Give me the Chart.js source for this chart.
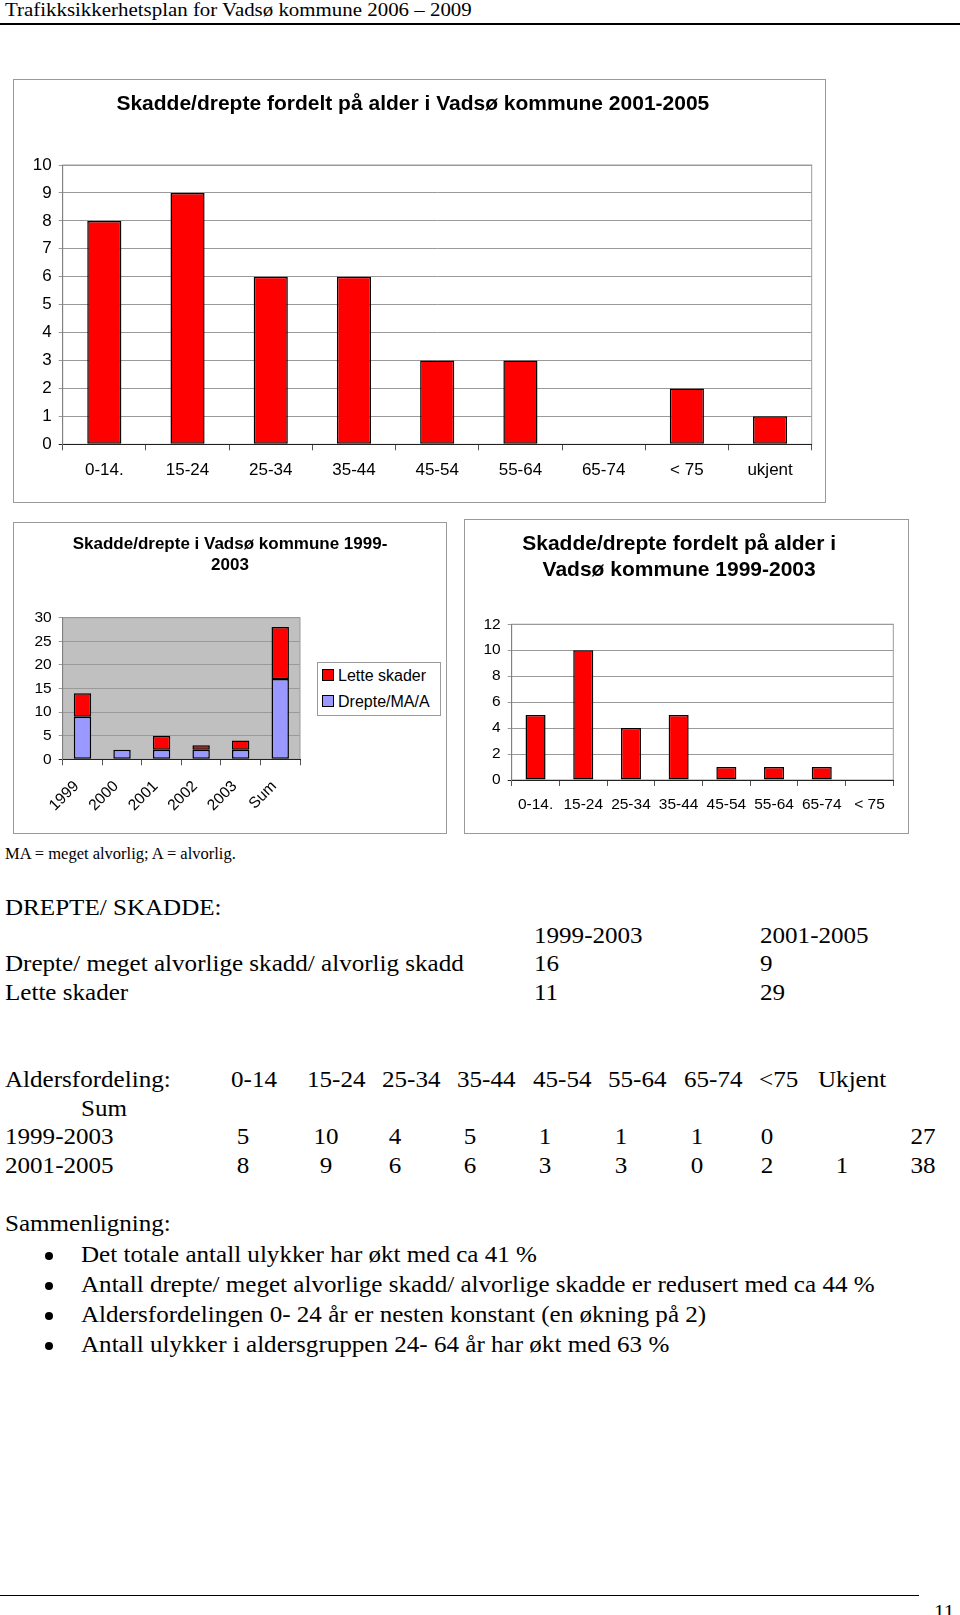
<!DOCTYPE html>
<html>
<head>
<meta charset="utf-8">
<script src="https://cdn.jsdelivr.net/npm/chart.js@4.4.1/dist/chart.umd.min.js"></script>
<style>
  body { margin: 0; background: #fff; }
  #page { position: relative; width: 960px; height: 1615px; overflow: hidden; background: #fff;
          font-family: "Liberation Serif", "Times New Roman", serif; color: #000; }
  .t { position: absolute; white-space: nowrap; line-height: 1.2; }
  .box { position: absolute; border: 1px solid #9a9a9a; background: #fff; }
  .box canvas { position: absolute; left: 0; top: 0; }
  .legend { position: absolute; border: 1px solid #9a9a9a; background: #fff;
            font-family: "Liberation Sans", Arial, sans-serif; font-size: 16px; }
  .legend .sw { position: absolute; width: 10px; height: 10px; border: 1px solid #000; }
  .legend .lb { position: absolute; line-height: 18px; white-space: nowrap; }
  .dot { position: absolute; width: 8px; height: 8px; border-radius: 50%; background: #000; }
</style>
</head>
<body>
<div id="page">
  <div class="box" style="left:13px; top:79px; width:811px; height:422px;">
    <canvas id="c1" width="811" height="422"></canvas>
  </div>
  <div class="box" style="left:13px; top:522px; width:432px; height:310px;">
    <canvas id="c2" width="432" height="310"></canvas>
  </div>
  <div class="legend" id="leg2" style="left:317px; top:662px; width:122px; height:52px;"></div>
  <div class="box" style="left:464px; top:519px; width:443px; height:313px;">
    <canvas id="c3" width="443" height="313"></canvas>
  </div>
</div>
<script>
// chart values
const ageLabels0105 = ["0-14.", "15-24", "25-34", "35-44", "45-54", "55-64", "65-74", "< 75", "ukjent"];
const injured0105 = [8, 9, 6, 6, 3, 3, 0, 2, 1];

const yearLabels = ["1999", "2000", "2001", "2002", "2003", "Sum"];
const seriousInjuries = [9, 2, 2, 2, 2, 17];
const lightInjuries = [5, 0, 3, 1, 2, 11];

const ageLabels9903 = ["0-14.", "15-24", "25-34", "35-44", "45-54", "55-64", "65-74", "< 75"];
const injured9903 = [5, 10, 4, 5, 1, 1, 1, 0];

// text table under the charts
const tableHead = ["0-14", "15-24", "25-34", "35-44", "45-54", "55-64", "65-74", "<75", "Ukjent"];
const tableHeadX = [231, 307, 382, 457, 533, 608, 683.5, 759, 818];
const row9903 = ["5", "10", "4", "5", "1", "1", "1", "0", "", "27"];
const row0105 = ["8", "9", "6", "6", "3", "3", "0", "2", "1", "38"];
const colCenters = [243, 326, 395, 470, 545, 621, 697, 767, 842, 923];
const bullets = [
    "Det totale antall ulykker har økt med ca 41 %",
    "Antall drepte/ meget alvorlige skadd/ alvorlige skadde er redusert med ca 44 %",
    "Aldersfordelingen 0- 24 år er nesten konstant (en økning på 2)",
    "Antall ulykker i aldersgruppen 24- 64 år har økt med 63 %"
];

const red = "#ff0000";
const blue = "#9999ff";
const gridColor = "#9a9a9a";

const page = document.getElementById("page");

// put a line of text with its cap centre at yc
function addText(x, yc, str, size, stretch, center) {
    const d = document.createElement("div");
    d.className = "t";
    d.textContent = str;
    d.style.fontSize = size + "px";
    d.style.top = (yc - 0.6065 * size) + "px";
    if (center) {
        d.style.left = (x - 60) + "px";
        d.style.width = "120px";
        d.style.textAlign = "center";
        d.style.transformOrigin = "center center";
    } else {
        d.style.left = x + "px";
        d.style.transformOrigin = "left center";
    }
    if (stretch) d.style.transform = "scaleX(" + stretch + ")";
    page.appendChild(d);
}

function addRule(x, y, w, h) {
    const d = document.createElement("div");
    d.style.cssText = "position:absolute;background:#000;left:" + x + "px;top:" + y + "px;width:" + w + "px;height:" + h + "px;";
    page.appendChild(d);
}

const S = 23, K = 1.09;
addText(5, 10.4, "Trafikksikkerhetsplan for Vadsø kommune 2006 – 2009", 19, 1.1);
addRule(0, 23, 960, 2);
addText(5, 853.8, "MA = meget alvorlig; A = alvorlig.", 16.5, 1);
addText(5, 907.5, "DREPTE/ SKADDE:", S, K);
addText(533.5, 935.7, "1999-2003", S, K);
addText(760, 935.7, "2001-2005", S, K);
addText(5, 963.8, "Drepte/ meget alvorlige skadd/ alvorlig skadd", S, K);
addText(533.5, 963.8, "16", S, K);
addText(760, 963.8, "9", S, K);
addText(5, 993.3, "Lette skader", S, K);
addText(533.5, 993.3, "11", S, K);
addText(760, 993.3, "29", S, K);
addText(5, 1080, "Aldersfordeling:", S, K);
tableHead.forEach((h, i) => addText(tableHeadX[i], 1080, h, S, K));
addText(80.5, 1109, "Sum", S, K);
addText(5, 1137, "1999-2003", S, K);
row9903.forEach((v, i) => { if (v) addText(colCenters[i], 1137, v, S, K, true); });
addText(5, 1166, "2001-2005", S, K);
row0105.forEach((v, i) => { if (v) addText(colCenters[i], 1166, v, S, K, true); });
addText(5, 1224, "Sammenligning:", S, K);
bullets.forEach((b, i) => {
    const yc = 1255 + i * 30;
    const dot = document.createElement("div");
    dot.className = "dot";
    dot.style.left = "45px";
    dot.style.top = (yc - 3) + "px";
    page.appendChild(dot);
    addText(81, yc, b, S, K);
});
addRule(0, 1595, 919, 1);
addText(934, 1613, "11", 19, 1.1);

// chart area background and frame
const framePlugin = {
    id: "frame",
    beforeDraw(chart, args, opts) {
        const a = chart.chartArea;
        const ctx = chart.ctx;
        ctx.save();
        if (opts.bg) {
            ctx.fillStyle = opts.bg;
            ctx.fillRect(a.left, a.top, a.right - a.left, a.bottom - a.top);
        }
        ctx.strokeStyle = gridColor;
        ctx.lineWidth = 1;
        ctx.strokeRect(a.left, a.top, a.right - a.left, a.bottom - a.top);
        ctx.restore();
    }
};

// title spans the whole canvas even when padding leaves room for the legend
const wideTitle = {
    id: "wideTitle",
    afterLayout(chart) {
        const t = chart.titleBlock;
        t.left = 0;
        t.right = chart.width;
        t.width = chart.width;
    }
};

Chart.defaults.font.family = "'Liberation Sans', Arial, sans-serif";
Chart.defaults.color = "#000";

function yScale(max, step, width, size) {
    return {
        min: 0,
        max: max,
        ticks: { stepSize: step, font: { size: size }, color: "#000", padding: 7 },
        grid: {
            color: (c) => (c.tick && c.tick.value === 0 ? "#222" : gridColor),
            tickLength: 4
        },
        border: { color: "#808080" },
        afterFit: (s) => { s.width = width; }
    };
}

function xScale(height, size, pad, rot) {
    return {
        grid: { drawOnChartArea: false, tickLength: 6, color: "#555", offset: true },
        border: { color: "#222" },
        ticks: { font: { size: size }, color: "#000", padding: pad, autoSkip: false, minRotation: rot, maxRotation: rot },
        afterFit: (s) => { s.height = height; }
    };
}

function barSet(label, values, colour, pct) {
    return {
        label: label,
        data: values,
        backgroundColor: colour,
        borderColor: "#000",
        borderWidth: 1.5,
        borderSkipped: false,
        barPercentage: pct,
        categoryPercentage: 1
    };
}

function titleOpts(text, size, top, bottom) {
    return {
        display: true,
        text: text,
        color: "#000",
        font: { size: size, weight: "bold", lineHeight: 1.22 },
        padding: { top: top, bottom: bottom }
    };
}

// top chart: 2001-2005
new Chart(document.getElementById("c1"), {
    type: "bar",
    data: { labels: ageLabels0105, datasets: [barSet("2001-2005", injured0105, red, 0.41)] },
    options: {
        responsive: false,
        animation: false,
        layout: { padding: { left: 0, right: 13.3, top: 0, bottom: 0 } },
        plugins: {
            legend: { display: false },
            tooltip: { enabled: false },
            title: titleOpts("Skadde/drepte fordelt på alder i Vadsø kommune 2001-2005", 21, 11.5, 47.9),
            frame: {}
        },
        scales: { x: xScale(57.7, 17, 10, 0), y: yScale(10, 1, 48.7, 17) }
    },
    plugins: [framePlugin]
});

// stacked chart: 1999-2003 per year
const x2 = xScale(73.7, 15.5, 12, 45);
x2.stacked = true;
x2.ticks.labelOffset = -6;
const y2 = yScale(30, 5, 48.7, 15.5);
y2.stacked = true;

const chart2 = new Chart(document.getElementById("c2"), {
    type: "bar",
    data: {
        labels: yearLabels,
        datasets: [
            barSet("Drepte/MA/A", seriousInjuries, blue, 0.44),
            barSet("Lette skader", lightInjuries, red, 0.44)
        ]
    },
    options: {
        responsive: false,
        animation: false,
        layout: { padding: { left: 0, right: 146, top: 0, bottom: 0 } },
        plugins: {
            legend: { display: false },
            tooltip: { enabled: false },
            title: titleOpts(["Skadde/drepte i Vadsø kommune 1999-", "2003"], 17, 11, 42.2),
            frame: { bg: "#c0c0c0" }
        },
        scales: { x: x2, y: y2 }
    },
    plugins: [framePlugin, wideTitle]
});

// legend for the stacked chart, top series first
const leg = document.getElementById("leg2");
chart2.data.datasets.slice().reverse().forEach((ds, i) => {
    const sw = document.createElement("div");
    sw.className = "sw";
    sw.style.left = "4px";
    sw.style.top = (6 + i * 26) + "px";
    sw.style.background = ds.backgroundColor;
    const lb = document.createElement("div");
    lb.className = "lb";
    lb.style.left = "20px";
    lb.style.top = (4 + i * 26) + "px";
    lb.textContent = ds.label;
    leg.appendChild(sw);
    leg.appendChild(lb);
});

// right chart: 1999-2003 per age
new Chart(document.getElementById("c3"), {
    type: "bar",
    data: { labels: ageLabels9903, datasets: [barSet("1999-2003", injured9903, red, 0.42)] },
    options: {
        responsive: false,
        animation: false,
        layout: { padding: { left: 0, right: 14.7, top: 0, bottom: 0 } },
        plugins: {
            legend: { display: false },
            tooltip: { enabled: false },
            title: titleOpts(["Skadde/drepte fordelt på alder i", "Vadsø kommune 1999-2003"], 21, 11.5, 41.5),
            frame: {}
        },
        scales: { x: xScale(53, 15.5, 9.7, 0), y: yScale(12, 2, 46.7, 15.5) }
    },
    plugins: [framePlugin]
});
</script>
</body>
</html>
